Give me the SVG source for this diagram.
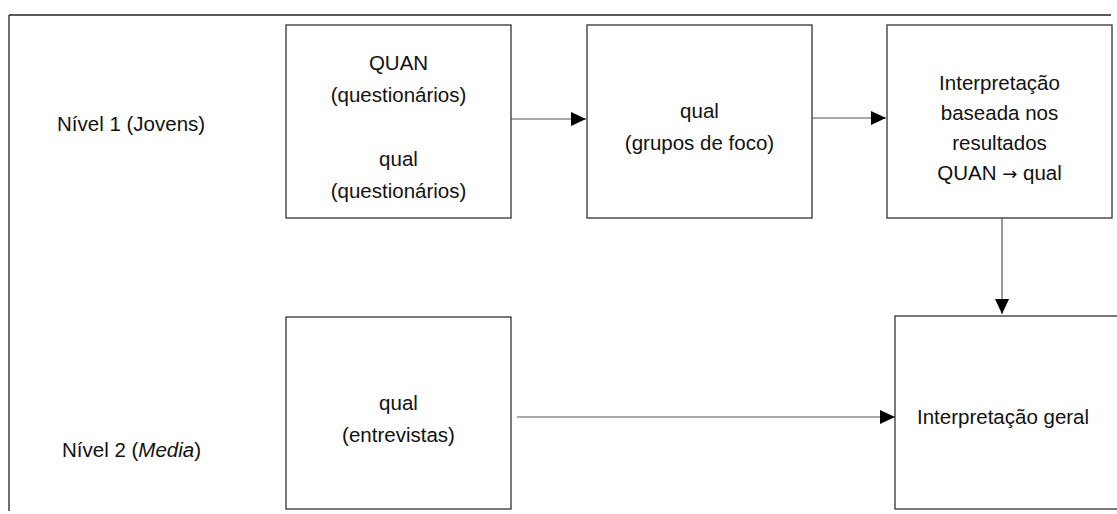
<svg xmlns="http://www.w3.org/2000/svg" width="1117" height="514" viewBox="0 0 1117 514">
<style>
.frame{stroke:#222;stroke-width:1.3;fill:none}
.box{fill:#fff;stroke:#333;stroke-width:1.3}
.conn{stroke:#555;stroke-width:1.2;fill:none}
text{font-family:"Liberation Sans",Arial,sans-serif;font-size:20.5px;fill:#111}
.c{text-anchor:middle}
.ar{font-family:"DejaVu Sans",sans-serif;font-size:18px}
</style>
<defs>
<marker id="arr" markerWidth="16" markerHeight="14" refX="15" refY="7" orient="auto" markerUnits="userSpaceOnUse">
<path d="M0,0 L15,7 L0,14 Z" fill="#000"/>
</marker>
</defs>
<rect width="1117" height="514" fill="#fff"/>
<g id="frame">
<line class="frame" x1="9" y1="15" x2="1111" y2="15"/>
<line class="frame" x1="9" y1="15" x2="9" y2="511"/>
</g>
<g id="label-nivel1"><text x="57" y="131">Nível 1 (Jovens)</text></g>
<g id="label-nivel2"><text x="62" y="457">Nível 2 (<tspan font-style="italic">Media</tspan>)</text></g>
<g id="n1">
<rect class="box" x="286" y="25" width="225" height="193"/>
<text class="c" x="398.5" y="70">QUAN</text>
<text class="c" x="398.5" y="102">(questionários)</text>
<text class="c" x="398.5" y="166">qual</text>
<text class="c" x="398.5" y="198">(questionários)</text>
</g>
<g id="n2">
<rect class="box" x="587" y="25" width="225" height="193"/>
<text class="c" x="699.5" y="118">qual</text>
<text class="c" x="699.5" y="150">(grupos de foco)</text>
</g>
<g id="n3">
<rect class="box" x="887" y="25" width="225" height="193"/>
<text class="c" x="999.5" y="90">Interpretação</text>
<text class="c" x="999.5" y="120">baseada nos</text>
<text class="c" x="999.5" y="150">resultados</text>
<text class="c" x="999.5" y="180">QUAN <tspan class="ar">→</tspan> qual</text>
</g>
<g id="n4">
<rect class="box" x="895" y="316" width="240" height="193"/>
<text x="917" y="424">Interpretação geral</text>
</g>
<g id="n5">
<rect class="box" x="286" y="317" width="225" height="192"/>
<text class="c" x="398.5" y="410">qual</text>
<text class="c" x="398.5" y="442">(entrevistas)</text>
</g>
<g id="connectors">
<line class="conn" x1="511" y1="119" x2="586" y2="119" marker-end="url(#arr)"/>
<line class="conn" x1="812" y1="118" x2="886" y2="118" marker-end="url(#arr)"/>
<line class="conn" x1="1002" y1="218" x2="1002" y2="314" marker-end="url(#arr)"/>
<line class="conn" x1="517" y1="417" x2="895" y2="417" marker-end="url(#arr)"/>
</g>
</svg>
